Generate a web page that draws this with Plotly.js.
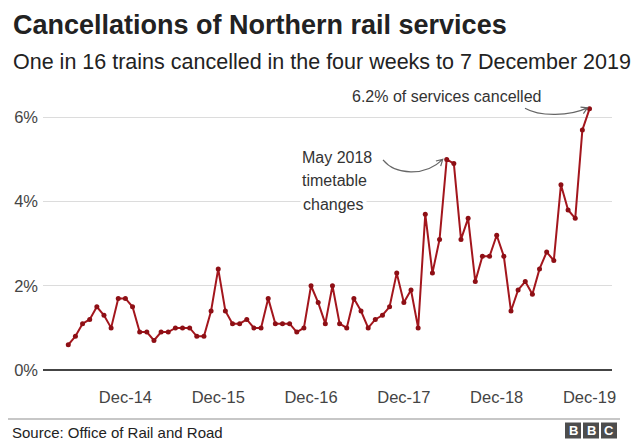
<!DOCTYPE html>
<html>
<head>
<meta charset="utf-8">
<script src="https://cdn.plot.ly/plotly-3.0.1.min.js"></script>
<style>html,body{margin:0;padding:0;background:#fff;}#chart{width:640px;height:444px;}</style>
</head>
<body>
<div id="chart"></div>
<script>
// Share of Northern rail services cancelled, per four-week period (%), May 2014 – 7 Dec 2019
const cancelledPct = [
  0.6, 0.8, 1.1, 1.2, 1.5, 1.3, 1.0, 1.7, 1.7, 1.5, 0.9, 0.9, 0.7,
  0.9, 0.9, 1.0, 1.0, 1.0, 0.8, 0.8, 1.4, 2.4, 1.4, 1.1, 1.1, 1.2,
  1.0, 1.0, 1.7, 1.1, 1.1, 1.1, 0.9, 1.0, 2.0, 1.6, 1.1, 2.0, 1.1,
  1.0, 1.7, 1.4, 1.0, 1.2, 1.3, 1.5, 2.3, 1.6, 1.9, 1.0, 3.7, 2.3,
  3.1, 5.0, 4.9, 3.1, 3.6, 2.1, 2.7, 2.7, 3.2, 2.7, 1.4, 1.9, 2.1,
  1.8, 2.4, 2.8, 2.6, 4.4, 3.8, 3.6, 5.7, 6.2
];
const periodIndex = cancelledPct.map((_, i) => i);
const xTickLabels = ['Dec-14', 'Dec-15', 'Dec-16', 'Dec-17', 'Dec-18', 'Dec-19'];
const xTickPeriods = [8, 21, 34, 47, 60, 73];
const yTickVals = [0, 2, 4, 6];
const yTickLabels = ['0%', '2%', '4%', '6%'];
const mayPeak = 53;          // May 2018 timetable change period
const latest = cancelledPct.length - 1;

// ---- layout geometry ----
const W = 640, Hh = 444;
const M = {l: 43, r: 28, t: 92, b: 74};
const PW = W - M.l - M.r, PH = Hh - M.t - M.b;
const xRange = [-3.54, 76.15];
const yRange = [0, 6.6];
const pxX = PW / (xRange[1] - xRange[0]);
const pxY = PH / (yRange[1] - yRange[0]);
const FONT = 'Liberation Sans, Arial, Helvetica, sans-serif';

const paperX = px => (px - M.l) / PW;
const paperY = py => (Hh - M.b - py) / PH;
// data point offset by pixels
function P(i, dx, dy) {
  const x = i + dx / pxX;
  const y = cancelledPct[i] - dy / pxY;
  return x.toFixed(4) + ',' + y.toFixed(4);
}
function curvedArrow(i, s, c1, c2, tip, a, b) {
  return 'M' + P(i, s[0], s[1]) +
    ' C' + P(i, c1[0], c1[1]) + ' ' + P(i, c2[0], c2[1]) + ' ' + P(i, tip[0], tip[1]) +
    ' M' + P(i, a[0], a[1]) + ' L' + P(i, tip[0], tip[1]) + ' L' + P(i, b[0], b[1]);
}

const trace = {
  x: periodIndex,
  y: cancelledPct,
  type: 'scatter',
  mode: 'lines+markers',
  line: {color: '#a3161d', width: 2},
  marker: {color: '#8e0f15', size: 5},
  hoverinfo: 'skip',
  cliponaxis: false
};

const shapes = [
  {type: 'path', xref: 'x', yref: 'y',
   path: curvedArrow(mayPeak, [-63.7, 0.6], [-51.7, 15.6], [-21.7, 17.6], [-4, 0], [-10.8, 1.6], [-6.0, 6.7]),
   line: {color: '#666', width: 1.2}},
  {type: 'path', xref: 'x', yref: 'y',
   path: curvedArrow(latest, [-64.5, -0.6], [-49.5, 8.1], [-19.5, 7.1], [-2, -1], [-9, -1.7], [-6.1, 4.7]),
   line: {color: '#666', width: 1.2}},
  // footer rule
  {type: 'line', xref: 'paper', yref: 'paper', x0: paperX(8), x1: paperX(620), y0: paperY(419), y1: paperY(419),
   line: {color: '#b5b5b5', width: 1.5}},
];
// BBC blocks
const bbcLetters = ['B', 'B', 'C'];
const bbcLeft = [565, 583, 601];
bbcLetters.forEach((_, k) => {
  shapes.push({type: 'rect', xref: 'paper', yref: 'paper',
    x0: paperX(bbcLeft[k]), x1: paperX(bbcLeft[k] + 16), y0: paperY(438.5), y1: paperY(422.5),
    fillcolor: '#4d4d4d', line: {width: 0}});
});

const annotations = [
  {xref: 'paper', yref: 'paper', x: paperX(11), y: paperY(62), xanchor: 'left', yanchor: 'middle',
   text: 'One in 16 trains cancelled in the four weeks to 7 December 2019', showarrow: false,
   font: {family: FONT, size: 21.5, color: '#222'}},
  {xref: 'paper', yref: 'paper', x: paperX(10), y: paperY(432), xanchor: 'left', yanchor: 'middle',
   text: 'Source: Office of Rail and Road', showarrow: false,
   font: {family: FONT, size: 15, color: '#222'}},
  {xref: 'paper', yref: 'paper', x: paperX(350), y: paperY(96), xanchor: 'left', yanchor: 'middle',
   text: '6.2% of services cancelled', showarrow: false,
   font: {family: FONT, size: 16, color: '#333'}},
  {xref: 'paper', yref: 'paper', x: paperX(300), y: paperY(157), xanchor: 'left', yanchor: 'middle',
   text: 'May 2018', showarrow: false, bgcolor: '#fff',
   font: {family: FONT, size: 16, color: '#333'}},
  {xref: 'paper', yref: 'paper', x: paperX(300), y: paperY(180.5), xanchor: 'left', yanchor: 'middle',
   text: 'timetable', showarrow: false, bgcolor: '#fff',
   font: {family: FONT, size: 16, color: '#333'}},
  {xref: 'paper', yref: 'paper', x: paperX(300), y: paperY(204), xanchor: 'left', yanchor: 'middle',
   text: 'changes', showarrow: false, bgcolor: '#fff', borderpad: 2,
   font: {family: FONT, size: 16, color: '#333'}},
];
bbcLetters.forEach((ch, k) => {
  annotations.push({xref: 'paper', yref: 'paper', x: paperX(bbcLeft[k] + 8), y: paperY(430.5),
    xanchor: 'center', yanchor: 'middle', text: '<b>' + ch + '</b>', showarrow: false,
    font: {family: FONT, size: 13, color: '#fff'}});
});

const layout = {
  width: W, height: Hh,
  margin: M,
  paper_bgcolor: '#fff', plot_bgcolor: '#fff',
  showlegend: false,
  title: {
    text: '<b>Cancellations of Northern rail services</b>',
    x: 13 / W, xref: 'container', xanchor: 'left',
    y: 1 - 25 / Hh, yref: 'container', yanchor: 'middle',
    font: {family: FONT, size: 27, color: '#222'}
  },
  xaxis: {
    range: xRange, showgrid: false, zeroline: false, showline: false, ticks: '',
    tickmode: 'array', tickvals: xTickPeriods, ticktext: xTickLabels,
    ticklabelstandoff: 15,
    tickfont: {family: FONT, size: 16.5, color: '#444'}, fixedrange: true
  },
  yaxis: {
    range: yRange, showgrid: true, gridcolor: '#dcdcdc', gridwidth: 1,
    zeroline: true, zerolinecolor: '#444', zerolinewidth: 2, showline: false, ticks: '',
    tickmode: 'array', tickvals: yTickVals, ticktext: yTickLabels,
    ticklabelstandoff: 4,
    tickfont: {family: FONT, size: 16.5, color: '#444'}, fixedrange: true
  },
  shapes: shapes,
  annotations: annotations
};

Plotly.newPlot('chart', [trace], layout, {displayModeBar: false, staticPlot: true});
</script>
</body>
</html>
